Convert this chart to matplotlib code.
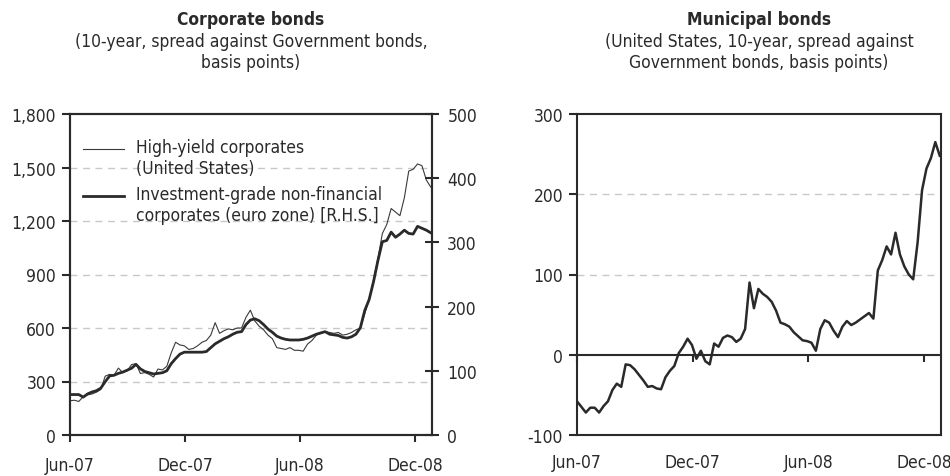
import numpy as np
import pandas as pd
import matplotlib
matplotlib.use("Agg")
import matplotlib.pyplot as plt
import matplotlib.dates as mdates
from matplotlib.ticker import FuncFormatter

plt.rcParams['font.family'] = ['DejaVu Sans']
plt.rcParams['font.stretch'] = 'condensed'
plt.rcParams['axes.unicode_minus'] = False

# weekly observations, Jun 2007 - Dec 2008
dates = pd.date_range("2007-06-01", periods=83, freq="7D")

# High-yield corporates (United States), basis points, left axis
high_yield = [192, 195, 188, 215, 225, 230, 240, 255, 330, 340,
              335, 375, 350, 360, 395, 400, 345, 350, 340, 325,
              370, 365, 385, 460, 520, 505, 500, 480, 485, 500,
              520, 530, 560, 630, 570, 585, 595, 590, 600, 600,
              660, 700, 640, 610, 590, 560, 540, 490, 485, 480,
              490, 475, 475, 470, 510, 530, 560, 570, 580, 575,
              570, 575, 560, 565, 575, 590, 600, 680, 760, 870,
              990, 1130, 1180, 1270, 1250, 1230, 1330, 1480, 1490, 1520,
              1510, 1430, 1390]

# Investment-grade non-financial corporates (euro zone), right axis
inv_grade = [63, 63, 63, 59, 64, 67, 69, 73, 83, 92,
             93, 96, 98, 101, 104, 110, 103, 99, 97, 95,
             96, 97, 100, 111, 119, 126, 129, 129, 129, 129,
             129, 130, 136, 142, 146, 150, 153, 157, 160, 161,
             172, 179, 181, 178, 172, 165, 160, 154, 151, 149,
             148, 148, 148, 149, 151, 154, 157, 159, 161, 157,
             156, 155, 152, 151, 153, 157, 167, 194, 211, 239,
             272, 301, 303, 316, 308, 313, 319, 314, 313, 325,
             322, 319, 315]

# Municipal bonds (United States), spread, basis points
municipal = [-58, -65, -72, -66, -66, -72, -64, -58, -44, -36,
             -40, -12, -13, -18, -25, -32, -40, -39, -42, -43,
             -28, -20, -14, 2, 10, 20, 12, -5, 5, -8,
             -12, 14, 10, 21, 24, 22, 16, 20, 32, 90,
             58, 82, 76, 72, 66, 55, 40, 38, 35, 28,
             23, 18, 17, 15, 5, 32, 43, 40, 30, 22,
             35, 42, 37, 40, 44, 48, 52, 45, 105, 118,
             135, 125, 152, 125, 110, 100, 94, 140, 205, 232,
             245, 265, 248]

tick_dates = pd.to_datetime(["2007-06-01", "2007-12-01", "2008-06-01", "2008-12-01"])
tick_labels = ["Jun-07", "Dec-07", "Jun-08", "Dec-08"]
x_end = pd.Timestamp("2008-12-28")

dark = "#2a2a2a"
grid_col = "#c8c8c8"
fs = 12.5

fig = plt.figure(figsize=(9.5, 4.77), dpi=100)
ax1 = fig.add_axes([70 / 950, 1 - 436 / 477, 362 / 950, 321 / 477])
ax3 = fig.add_axes([577 / 950, 1 - 436 / 477, 364 / 950, 321 / 477])

# ---- Corporate bonds ----
ax2 = ax1.twinx()
ax1.plot(dates, high_yield, color="#3a3a3a", lw=0.8, zorder=3)
ax2.plot(dates, inv_grade, color=dark, lw=2.0, zorder=3)
ax1.set_ylim(0, 1800)
ax2.set_ylim(0, 500)
ax1.set_yticks(range(0, 1801, 300))
ax2.set_yticks(range(0, 501, 100))
ax1.yaxis.set_major_formatter(FuncFormatter(lambda v, p: f"{int(v):,}"))
for v in range(300, 1501, 300):
    ax1.axhline(v, color=grid_col, lw=1, ls=(0, (5, 4)), zorder=1)
for a in (ax1, ax3):
    a.set_xlim(dates[0], x_end)
    a.set_xticks(tick_dates)
    a.set_xticklabels(tick_labels)
for a in (ax1, ax2, ax3):
    for s in a.spines.values():
        s.set_linewidth(1.5)
        s.set_color(dark)
ax1.tick_params(axis="both", labelsize=fs, colors=dark, width=1.5)
ax1.tick_params(axis="y", direction="out", length=6, pad=4)
ax1.tick_params(axis="x", direction="out", length=5, pad=10)
ax2.tick_params(axis="y", direction="inout", length=10, width=1.5,
                labelsize=fs, colors=dark, pad=6)

# legend drawn by hand so the key lines sit on the first text line
ax1.plot([0.036, 0.148], [0.892, 0.892], color="#3a3a3a", lw=0.8,
         transform=ax1.transAxes)
ax1.plot([0.036, 0.148], [0.745, 0.745], color=dark, lw=2.0,
         transform=ax1.transAxes)
ax1.text(0.183, 0.925, "High-yield corporates\n(United States)", fontsize=fs,
         color=dark, va="top", ha="left", transform=ax1.transAxes,
         linespacing=1.2)
ax1.text(0.183, 0.778, "Investment-grade non-financial\ncorporates (euro zone) [R.H.S.]",
         fontsize=fs, color=dark, va="top", ha="left",
         transform=ax1.transAxes, linespacing=1.2)

# ---- Municipal bonds ----
ax3.plot(dates, municipal, color=dark, lw=1.8, zorder=3)
ax3.set_ylim(-100, 300)
ax3.set_yticks(range(-100, 301, 100))
for v in (100, 200):
    ax3.axhline(v, color=grid_col, lw=1, ls=(0, (5, 4)), zorder=1)
ax3.tick_params(axis="y", direction="out", length=6, pad=4, width=1.5,
                labelsize=fs, colors=dark)
ax3.tick_params(axis="x", length=0, pad=13, labelsize=fs, colors=dark)
zero_ax = ax3.secondary_xaxis(0.25)
zero_ax.set_xticks(tick_dates)
zero_ax.tick_params(axis="x", direction="out", length=5, width=1.5,
                    labelbottom=False, colors=dark)
zero_ax.spines["bottom"].set_linewidth(1.5)
zero_ax.spines["bottom"].set_color(dark)

# titles
for cx, title, sub in [
    (251 / 950, "Corporate bonds",
     "(10-year, spread against Government bonds,\nbasis points)"),
    (759 / 950, "Municipal bonds",
     "(United States, 10-year, spread against\nGovernment bonds, basis points)"),
]:
    fig.text(cx, 1 - 20 / 477, title, ha="center", va="center",
             fontsize=fs, fontweight="bold", color=dark)
    fig.text(cx, 1 - 33 / 477, sub, ha="center", va="top",
             fontsize=fs, color=dark, linespacing=1.25)

fig.savefig("out.png", dpi=100)
